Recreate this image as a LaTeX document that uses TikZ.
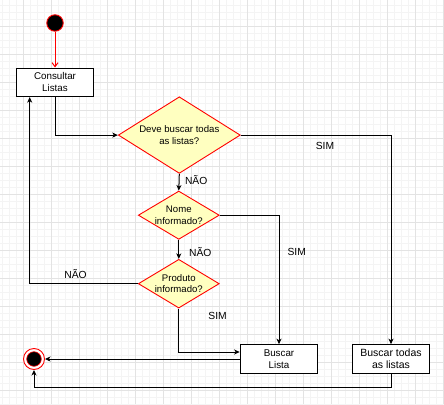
\documentclass[tikz,border=0pt]{standalone}
\usepackage{fontspec}
\setmainfont{Liberation Sans}
\usetikzlibrary{shapes.geometric,arrows.meta,calc}
\definecolor{gridminor}{HTML}{F4F4F4}
\definecolor{gridmajor}{HTML}{E3E3E3}
\definecolor{decfill}{HTML}{FFFFC0}
\begin{document}
\begin{tikzpicture}[x=1pt,y=-1pt,
  every node/.style={font=\fontsize{9.8}{12}\selectfont},
  action/.style={rectangle, draw=black, line width=1.2pt, fill=white,
    minimum width=77.4pt, minimum height=28.4pt, inner sep=0pt, align=center},
  decision/.style={diamond, draw=red, fill=decfill, line width=0.9pt,
    inner xsep=-10pt, inner ysep=-5pt, align=center,
    font=\fontsize{9.6}{11.5}\selectfont},
  initial/.style={circle, fill=black, draw=red, line width=0.9pt,
    minimum size=16.5pt, inner sep=0pt},
  flow/.style={draw=black, line width=1pt,
    -{Stealth[length=5.5pt,width=5pt,inset=1.5pt]}},
  lbl/.style={font=\fontsize{10.3}{12}\selectfont, inner sep=0pt, anchor=base}]

% canvas with grid
\useasboundingbox (0,0) rectangle (444,404);
\fill[white] (0,0) rectangle (444,404);
\foreach \i in {-3,...,60} {
  \draw[gridminor, line width=0.8pt] ({23.3+7*\i},0) -- ({23.3+7*\i},404);
}
\foreach \i in {-3,...,55} {
  \draw[gridminor, line width=0.8pt] (0,{26+7*\i}) -- (444,{26+7*\i});
}
\foreach \i in {0,...,15} {
  \draw[gridmajor, line width=0.8pt] ({23.3+28*\i},0) -- ({23.3+28*\i},404);
}
\foreach \i in {-1,...,14} {
  \draw[gridmajor, line width=0.8pt] (0,{26+28*\i}) -- (444,{26+28*\i});
}

% states and activities
\node[initial] (start) at (55,23) {};
\node[action] (consultar) at (55,82.3) {Consultar\\Listas};
\node[decision, minimum width=122pt, minimum height=76.6pt] (d1) at (179.3,135.1) {Deve buscar todas\\as listas?};
\node[decision, minimum width=81pt, minimum height=48.3pt] (d2) at (178.8,215.2) {Nome\\informado?};
\node[decision, minimum width=81pt, minimum height=48.7pt] (d3) at (178.8,283.7) {Produto\\informado?};
\node[action] (bl) at (279,359) {Buscar\\Lista};
\node[action, font=\fontsize{10.5}{12}\selectfont] (bt) at (391,359) {Buscar todas\\as listas};
\node[circle, draw=red, fill=white, line width=0.9pt, minimum size=21pt, inner sep=0pt] (end) at (34,359) {};
\node[circle, draw=red, fill=black, line width=0.6pt, minimum size=14.6pt, inner sep=0pt] (endcore) at (end.center) {};

% transitions
\draw[red, line width=1pt, -{Straight Barb[length=4pt,width=6pt]}] (start) -- (consultar);
\draw[flow] (consultar.south) |- (d1.west);
\draw[flow] (d1.east) -| (bt.north);
\draw[flow] (d1.south) -- (d2.north);
\draw[flow] (d2.east) -| (bl.north);
\draw[flow] (d2.south) -- (d3.north);
\draw[flow] (d3.west) -| ([xshift=14pt]consultar.south west);
\draw[flow] (d3.south) |- ([yshift=7pt]bl.west);
\draw[flow] (bl.west) -- (end.east);
\draw[flow] (bt.south) -- ++(0,14) -| (end.south);

% guard labels
\node[lbl] (simtodas) at (325,149) {SIM};
\node[lbl] (naotodas) at (196.2,184) {NÃO};
\node[lbl] (simnome) at (296.7,255.7) {SIM};
\node[lbl] (naonome) at (200.3,256.2) {NÃO};
\node[lbl] (naoproduto) at (75.5,278.7) {NÃO};
\node[lbl] (simproduto) at (217.6,319.3) {SIM};
\end{tikzpicture}
\end{document}
